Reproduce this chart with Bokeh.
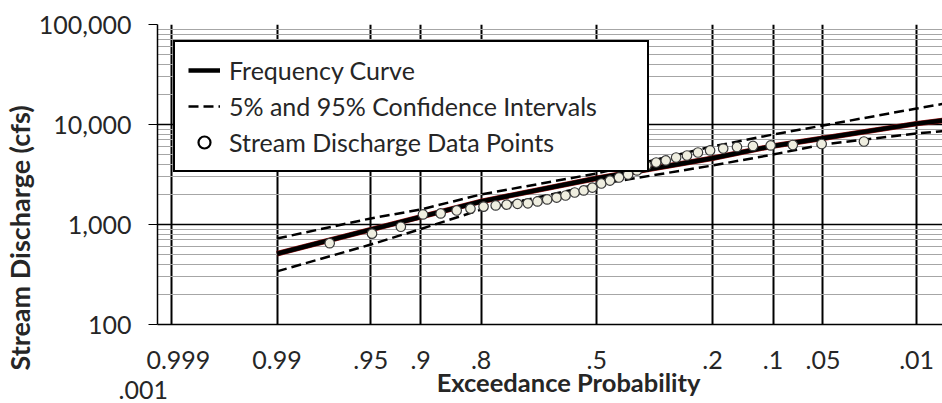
from statistics import NormalDist
from bokeh.plotting import figure
from bokeh.models import (FixedTicker, Range1d, Legend, LegendItem, Title,
                          ColumnDataSource)
from bokeh.embed import file_html
from bokeh.resources import INLINE

# ---------------- data ----------------
x_tick_probs = [0.999, 0.99, 0.95, 0.9, 0.8, 0.5, 0.2, 0.1, 0.05, 0.01]
x_tick_labels = ["0.999", "0.99", ".95", ".9", ".8", ".5", ".2", ".1", ".05", ".01"]
y_ticks = [100, 1000, 10000, 100000]
y_tick_labels = ["100", "1,000", "10,000", "100,000"]

# frequency curve and confidence limits (exceedance probability, cfs)
curve_prob = [0.99, 0.95, 0.9, 0.8, 0.5, 0.2, 0.1, 0.05, 0.01, 0.005]
curve_q = [510, 890, 1190, 1700, 2900, 4600, 6100, 7300, 10200, 11200]
upper_q = [724, 1150, 1410, 2000, 3240, 6030, 7940, 9770, 14450, 16600]
lower_q = [340, 630, 900, 1410, 2510, 3890, 5010, 6310, 8130, 8710]

# observed stream discharge data points
point_prob = [0.974, 0.949, 0.923, 0.897, 0.872, 0.846, 0.821, 0.795, 0.769, 0.744,
              0.718, 0.692, 0.667, 0.641, 0.615, 0.590, 0.564, 0.538, 0.513, 0.487,
              0.462, 0.436, 0.410, 0.385, 0.359, 0.333, 0.308, 0.282, 0.256, 0.231,
              0.205, 0.179, 0.154, 0.128, 0.103, 0.077, 0.051, 0.026]
point_q = [650, 810, 950, 1260, 1290, 1380, 1440, 1510, 1550, 1580,
           1610, 1630, 1700, 1780, 1860, 1950, 2090, 2190, 2340, 2570,
           2750, 2950, 3160, 3470, 3890, 4170, 4370, 4680, 4900, 5250,
           5500, 5750, 5960, 6100, 6170, 6240, 6380, 6760]

# ---------------- probability scale ----------------
nd = NormalDist()


def zpos(p):
    return nd.inv_cdf(1.0 - p)


FONT = "Lato"
TXT = "#262626"
NB = "\u00a0"

# frame spans canvas x 154..942; 138 px per standard normal unit, median at x=595
PX_PER_Z = 138.0
Z0_PX = 595.0


def zx(px):
    return (px - Z0_PX) / PX_PER_Z


p = figure(width=942, height=403, output_backend="svg", toolbar_location=None,
           x_range=Range1d(zx(154), zx(942)), y_range=Range1d(100, 100000),
           y_axis_type="log",
           min_border_left=154, min_border_right=0, min_border_top=24,
           min_border_bottom=79)
p.outline_line_color = None
p.background_fill_color = "white"

# x axis
xt = [zpos(v) for v in x_tick_probs]
xlab = list(x_tick_labels)
xlab[0] = NB * 2 + xlab[0] + "\n" + ".001" + NB * 9
p.xaxis.ticker = FixedTicker(ticks=xt, minor_ticks=[])
p.xaxis.major_label_overrides = {t: l for t, l in zip(xt, xlab)}
p.xaxis.major_tick_line_color = None
p.xaxis.minor_tick_line_color = None
p.xaxis.axis_line_color = "black"
p.xaxis.axis_line_width = 1.5
p.xaxis.major_label_standoff = 13
p.xaxis.major_label_text_font = FONT
p.xaxis.major_label_text_font_size = "25px"
p.xaxis.major_label_text_line_height = 1.0
p.xaxis.major_label_text_color = TXT
p.xaxis.axis_label = NB * 6 + "Exceedance Probability"
p.xaxis.axis_label_standoff = -40
p.xaxis.axis_label_text_font = FONT
p.xaxis.axis_label_text_font_style = "bold"
p.xaxis.axis_label_text_font_size = "25.5px"
p.xaxis.axis_label_text_color = TXT

# y axis
minor = [k * 10 ** e for e in (2, 3, 4) for k in range(2, 10)]
p.yaxis.ticker = FixedTicker(ticks=y_ticks, minor_ticks=minor)
p.yaxis.major_label_overrides = {t: l for t, l in zip(y_ticks, y_tick_labels)}
p.yaxis.major_tick_out = 9
p.yaxis.major_tick_in = 0
p.yaxis.major_tick_line_color = "black"
p.yaxis.minor_tick_line_color = None
p.yaxis.axis_line_color = "black"
p.yaxis.axis_line_width = 1.5
p.yaxis.major_label_standoff = 17
p.yaxis.major_label_text_font = FONT
p.yaxis.major_label_text_font_size = "25px"
p.yaxis.major_label_text_color = TXT

p.add_layout(Title(text="Stream Discharge (cfs)", align="left", offset=-46,
                   standoff=0, text_font=FONT, text_font_style="bold",
                   text_font_size="27px", text_color=TXT), "left")

# grids
p.xgrid.grid_line_color = "black"
p.xgrid.grid_line_width = 2
p.ygrid.grid_line_color = "black"
p.ygrid.grid_line_width = 1.3
p.ygrid.minor_grid_line_color = "#a6a6a6"
p.ygrid.minor_grid_line_width = 1.2

# ---------------- glyphs ----------------
cx = [zpos(v) for v in curve_prob]
src_c = ColumnDataSource(dict(x=cx, q=curve_q, up=upper_q, lo=lower_q))
src_p = ColumnDataSource(dict(x=[zpos(v) for v in point_prob], q=point_q))
src_leg = ColumnDataSource(dict(x=[float("nan")], q=[float("nan")]))

r_up = p.line("x", "up", source=src_c, line_color="black", line_width=2.5,
              line_dash="10 5")
r_lo = p.line("x", "lo", source=src_c, line_color="black", line_width=2.5,
              line_dash="10 5")
p.line("x", "q", source=src_c, line_color="#9b1b1b", line_width=5.5)
r_curve = p.line("x", "q", source=src_c, line_color="black", line_width=4.5)
r_pts = p.scatter("x", "q", source=src_p, marker="circle", size=9.5,
                  fill_color="#efeee0", line_color="#3a3a3a", line_width=1.2)
r_leg_pts = p.scatter("x", "q", source=src_leg, marker="circle", size=9,
                      fill_color="white", line_color="black", line_width=2.2)

legend = Legend(items=[
    LegendItem(label="Frequency Curve", renderers=[r_curve]),
    LegendItem(label="5% and 95% Confidence Intervals", renderers=[r_up]),
    LegendItem(label="Stream Discharge Data Points", renderers=[r_leg_pts]),
], location="top_left", margin=16, padding=13, spacing=6,
    glyph_width=32, glyph_height=30, label_height=30, label_width=405,
    label_standoff=9, label_text_font=FONT, label_text_font_size="25px",
    label_text_color=TXT, border_line_color="black", border_line_width=2.5,
    border_line_alpha=1.0,
    background_fill_color="white", background_fill_alpha=1.0)
p.add_layout(legend)

open("out.html", "w").write(file_html(p, INLINE))
